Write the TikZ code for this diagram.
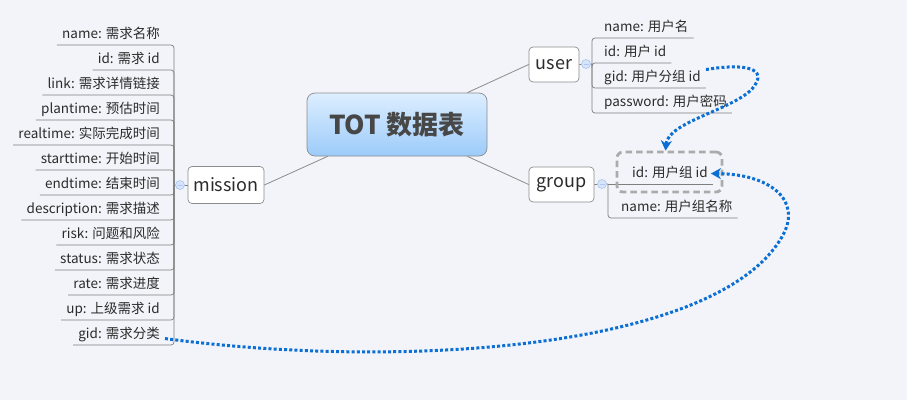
\documentclass[tikz,border=0pt]{standalone}
\usepackage{fontspec}
\setmainfont{Noto Sans CJK SC}
\usetikzlibrary{arrows.meta,calc}
\definecolor{bg}{HTML}{F2F4F9}
\definecolor{conn}{HTML}{8C8C8C}
\definecolor{leafline}{HTML}{7F7F7F}
\definecolor{txt}{HTML}{2B2B2B}
\definecolor{rootxt}{HTML}{474747}
\definecolor{linkblue}{HTML}{0B6FD4}
\definecolor{dashgray}{HTML}{ABABAB}
\definecolor{rtop}{HTML}{DDEEFF}
\definecolor{rbot}{HTML}{9CCBFA}
\definecolor{mfill}{HTML}{D6E5FA}
\definecolor{mdraw}{HTML}{A8C5EE}
\begin{document}
\begin{tikzpicture}[x=1pt,y=-1pt,
  leaf/.style={font=\fontsize{13.5}{16}\selectfont, text=txt, inner xsep=5pt, inner ysep=2.5pt, text height=10pt, text depth=3.5pt},
  topic/.style={draw=conn, fill=white, rounded corners=4pt, font=\fontsize{18}{21}\selectfont, text=txt, inner sep=0pt, line width=0.7pt},
  roottopic/.style={draw=conn, top color=rtop, bottom color=rbot, rounded corners=8pt, font=\fontsize{26}{30}\selectfont\bfseries, text=rootxt, inner sep=0pt, line width=0.7pt, minimum width=180pt, minimum height=63pt},
  branch/.style={draw=leafline, line width=0.7pt, rounded corners=3pt},
  mainconn/.style={draw=conn, line width=0.8pt},
  marker/.style={circle, draw=mdraw, fill=mfill, minimum size=9pt, inner sep=0pt, line width=0.6pt,
     path picture={\draw[mdraw!80!blue!60, line width=0.8pt] ([xshift=-2.5pt]path picture bounding box.center) -- ([xshift=2.5pt]path picture bounding box.center);}},
  dashbox/.style={draw=dashgray, line width=2.8pt, dash pattern=on 6.5pt off 4pt, rounded corners=6pt, minimum width=105pt, minimum height=40pt, inner sep=0pt},
  link/.style={draw=linkblue, line width=3pt, dash pattern=on 3pt off 2.2pt, -{Stealth[length=10pt,width=11pt,inset=3pt]}}
]
\useasboundingbox (0,0) rectangle (922,416);
\fill[bg] (0,0) rectangle (907,400);

% root and main topics
\node[roottopic] (root) at (397,124.5) {TOT 数据表};
\node[topic, minimum width=76pt, minimum height=37pt] (mission) at (226,185) {mission};
\node[topic, minimum width=50pt, minimum height=35pt] (user) at (554,64.5) {user};
\node[topic, minimum width=65pt, minimum height=35pt] (group) at (561.5,184.5) {group};

\draw[mainconn] ($(root.south west)+(21,0)$) -- (mission.east);
\draw[mainconn] ($(root.north east)+(-20,0)$) -- (user.west);
\draw[mainconn] ($(root.south east)+(-20,0)$) -- (group.west);

% mission leaves
\coordinate (mj) at (174,185);
\node[leaf, anchor=south east] (m1) at (165,45) {name: 需求名称};
\node[leaf, anchor=south east] (m2) at (165,70) {id: 需求 id};
\node[leaf, anchor=south east] (m3) at (165,95) {link: 需求详情链接};
\node[leaf, anchor=south east] (m4) at (165,120) {plantime: 预估时间};
\node[leaf, anchor=south east] (m5) at (165,145) {realtime: 实际完成时间};
\node[leaf, anchor=south east] (m6) at (165,170) {starttime: 开始时间};
\node[leaf, anchor=south east] (m7) at (165,195) {endtime: 结束时间};
\node[leaf, anchor=south east] (m8) at (165,220) {description: 需求描述};
\node[leaf, anchor=south east] (m9) at (165,245) {risk: 问题和风险};
\node[leaf, anchor=south east] (m10) at (165,270) {status: 需求状态};
\node[leaf, anchor=south east] (m11) at (165,295) {rate: 需求进度};
\node[leaf, anchor=south east] (m12) at (165,320) {up: 上级需求 id};
\node[leaf, anchor=south east] (m13) at (165,345) {gid: 需求分类};
\foreach \i in {1,...,13} {\draw[branch] (mj) |- (m\i.south west);}
\draw[branch] (mj) -- (mission.west);
\node[marker] (mmark) at (180,185) {};

% user leaves
\coordinate (uj) at (592,64);
\node[leaf, anchor=south west] (u1) at (599,38) {name: 用户名};
\node[leaf, anchor=south west] (u2) at (599,63) {id: 用户 id};
\node[leaf, anchor=south west] (u3) at (599,88) {gid: 用户分组 id};
\node[leaf, anchor=south west] (u4) at (599,113) {password: 用户密码};
\foreach \i in {1,...,4} {\draw[branch] (uj) |- (u\i.south east);}
\draw[branch] (user.east) -- (uj);
\node[marker] (umark) at (586,64) {};

% group leaves
\coordinate (gj) at (608,184);
\node[leaf, anchor=south west] (g1) at (627,184) {id: 用户组 id};
\node[leaf, anchor=south west] (g2) at (616,218) {name: 用户组名称};
\draw[branch] (gj) -- (g1.south east);
\draw[branch] (gj) |- (g2.south east);
\draw[branch] (group.east) -- (gj);
\node[marker] (gmark) at (602,184) {};

\node[dashbox] (idbox) at (669.5,172) {};

% relation links
\draw[link] ($(u3.east)+(0,-9)$) .. controls (745,63) and (770,68) .. (752,89) .. controls (732,110) and (668,122) .. ($(idbox.north)+(-4,0)$);
\draw[link] ($(m13.east)+(0,3)$) .. controls (400,370) and (720,350) .. (783,235) .. controls (802,200) and (770,174) .. ($(g1.east)+(-2,-1)$);
\end{tikzpicture}
\end{document}
